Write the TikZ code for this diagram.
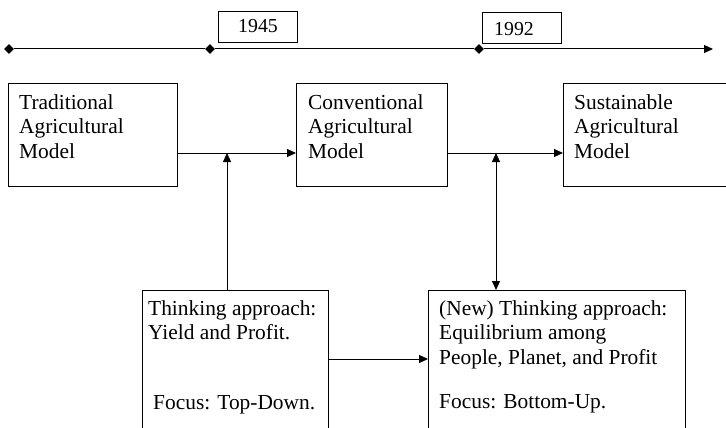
\documentclass[tikz,border=0pt]{standalone}
\usepackage{fontspec}
\setmainfont{Liberation Serif}
\usetikzlibrary{arrows.meta,shapes.geometric,calc}
\tikzset{
  x=1pt,y=-1pt,
  ln/.style={line width=1pt,draw=black},
  arr/.style={ln,-{Triangle[length=9pt,width=8pt]}},
  darr/.style={ln,{Triangle[length=9pt,width=8pt]}-{Triangle[length=9pt,width=8pt]}},
  box/.style={ln,rectangle,inner sep=0pt,anchor=north west},
  txt/.style={inner sep=0pt,align=left,anchor=north west,font=\fontsize{21.4}{24.5}\selectfont},
  ltxt/.style={inner sep=0pt,anchor=base west,font=\fontsize{21.4}{24.5}\selectfont},
  ytxt/.style={inner sep=0pt,font=\fontsize{19.8}{24}\selectfont},
  dmd/.style={diamond,fill=black,inner sep=0pt,minimum width=10pt,minimum height=10pt},
}
\begin{document}
\begin{tikzpicture}
\useasboundingbox (0,0) rectangle (726,428);
\clip (0,0) rectangle (726,428);
% timeline
\node[dmd] (d1) at (9,49) {};
\node[dmd] (d2) at (210,49) {};
\node[dmd] (d3) at (479,49) {};
\coordinate (tend) at (713,49);
\draw[ln] (d1) -- (d2);
\draw[ln] (d2) -- (d3);
\draw[arr] (d3) -- (tend);
% year boxes
\node[box,minimum width=79pt,minimum height=31.5pt] (y1) at (218,10.7) {};
\node[ytxt,anchor=base] (y1t) at (258,33) {1945};
\node[box,minimum width=79pt,minimum height=31pt] (y2) at (482,11.7) {};
\node[ytxt,anchor=base west] (y2t) at (494,36) {1992};
% top boxes
\node[box,minimum width=168.5pt,minimum height=102pt] (trad) at (8.3,83.5) {};
\node[txt] (tradt) at (19,91.8) {\strut Traditional\\Agricultural\\Model};
\node[box,minimum width=151pt,minimum height=102pt] (conv) at (296,83.5) {};
\node[txt] (convt) at (308,91.8) {\strut Conventional\\Agricultural\\Model};
\node[box,minimum width=180pt,minimum height=102pt] (sust) at (563,83.5) {};
\node[txt] (sustt) at (574,91.8) {\strut Sustainable\\Agricultural\\Model};
% bottom boxes
\node[box,minimum width=186.5pt,minimum height=160pt] (b1) at (141.7,290) {};
\node[txt] (b1t) at (148,297.8) {\strut Thinking approach:\\Yield and Profit.};
\node[ltxt] (b1f) at (153,409) {Focus: Top-Down.};
\node[box,minimum width=257pt,minimum height=160pt] (b2) at (428,290) {};
\node[txt] (b2t) at (439,297.8) {\strut (New) Thinking approach:\\Equilibrium among\\People, Planet, and Profit};
\node[ltxt] (b2f) at (439,408) {Focus: Bottom-Up.};
% connectors
\coordinate (j1) at (227,153);
\coordinate (j2) at (496,153);
\coordinate (j3) at (380,359);
\draw[arr] (trad.east |- j1) -- (conv.west |- j1);
\draw[arr] (conv.east |- j2) -- (sust.west |- j2);
\draw[arr] (b1.north -| j1) -- (j1);
\draw[darr] (j2) -- (b2.north -| j2);
\draw[arr] (b1.east |- j3) -- (b2.west |- j3);
\end{tikzpicture}
\end{document}
